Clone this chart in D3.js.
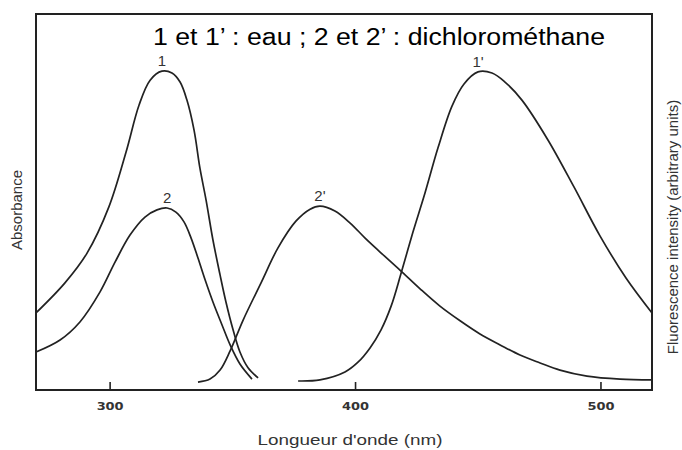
<!DOCTYPE html>
<html>
<head>
<meta charset="utf-8">
<script src="https://cdn.jsdelivr.net/npm/d3@7/dist/d3.min.js"></script>
<style>
  html, body { margin: 0; padding: 0; background: #fff; }
  svg { display: block; }
</style>
</head>
<body>
<svg id="chart" width="682" height="450"></svg>
<script>
// ---- data (wavelength nm, relative intensity) ----
const xTicks = [300, 400, 500];
const title = "1 et 1\u2019 : eau ; 2 et 2\u2019 : dichlorométhane";
const xTitle = "Longueur d'onde (nm)";
const yLeftTitle = "Absorbance";
const yRightTitle = "Fluorescence intensity (arbitrary units)";

const curve1 = [[270.0,0.205],[281.8,0.285],[290.8,0.364],[299.7,0.487],[306.7,0.633],[312.0,0.758],[316.5,0.824],[321.3,0.848],[325.4,0.843],[328.7,0.819],[331.5,0.771],[334.4,0.691],[336.8,0.590],[339.3,0.505],[342.1,0.399],[345.0,0.306],[347.4,0.234],[350.3,0.160],[353.1,0.101],[356.4,0.059],[360.5,0.032]];
const curve2 = [[270.0,0.101],[279.8,0.133],[287.9,0.181],[296.1,0.261],[302.2,0.340],[308.3,0.412],[314.4,0.460],[319.3,0.479],[323.4,0.484],[327.0,0.473],[330.3,0.447],[333.2,0.404],[336.0,0.351],[338.9,0.293],[342.1,0.234],[345.8,0.173],[349.1,0.120],[353.1,0.069],[358.0,0.029]];
const curve2p = [[336.0,0.021],[340.9,0.029],[345.0,0.053],[349.1,0.104],[354.4,0.186],[361.7,0.285],[368.6,0.378],[375.9,0.449],[381.7,0.481],[385.7,0.489],[391.8,0.476],[398.0,0.444],[404.1,0.404],[410.2,0.367],[418.3,0.319],[426.5,0.269],[434.6,0.223],[442.8,0.184],[450.9,0.149],[459.1,0.120],[467.2,0.093],[475.4,0.072],[483.5,0.053],[494.5,0.037],[508.0,0.029],[521.0,0.027]];
const curve1p = [[376.8,0.024],[385.7,0.027],[395.9,0.048],[401.2,0.074],[406.1,0.112],[410.6,0.160],[414.7,0.223],[418.7,0.309],[423.6,0.420],[428.5,0.524],[433.8,0.644],[439.5,0.755],[444.4,0.814],[450.1,0.846],[455.8,0.843],[461.1,0.819],[468.0,0.771],[478.6,0.665],[489.2,0.540],[499.8,0.410],[510.4,0.298],[521.0,0.205]];

const curveNames = ["1", "2", "2'", "1'"];
const curveLabelAt = [[321.3,0.848],[323.4,0.484],[385.7,0.489],[450.1,0.846]];

// ---- layout ----
const svg = d3.select("#chart");
const mL = 36, mR = 652, mT = 14, mB = 390;
const x = d3.scaleLinear().domain([270, 521]).range([mL, mR]);
const y = d3.scaleLinear().domain([0, 1]).range([mB, mT]);

const ink = "#222";

// curves
const line = d3.line().x(d => x(d[0])).y(d => y(d[1])).curve(d3.curveCatmullRom.alpha(0.5));
[curve1, curve2, curve2p, curve1p].forEach(c => {
  svg.append("path").attr("d", line(c))
    .attr("fill", "none").attr("stroke", ink).attr("stroke-width", 1.7);
});

// curve labels
curveNames.forEach((n, i) => {
  const p = curveLabelAt[i];
  svg.append("text")
    .attr("x", x(p[0])).attr("y", y(p[1]) - 5)
    .attr("text-anchor", "middle")
    .attr("font-family", "Liberation Sans, Arial, sans-serif")
    .attr("font-size", 15).attr("fill", "#333")
    .text(n);
});

// frame
svg.append("rect").attr("x", mL).attr("y", mT)
  .attr("width", mR - mL).attr("height", mB - mT)
  .attr("fill", "none").attr("stroke", ink).attr("stroke-width", 2);

// x axis
const ax = svg.append("g").attr("transform", `translate(0,${mB})`)
  .call(d3.axisBottom(x).tickValues(xTicks).tickSize(-8).tickPadding(12).tickFormat(d3.format("d")));
ax.select(".domain").remove();
ax.selectAll(".tick line").attr("stroke", ink).attr("stroke-width", 1.6);
ax.selectAll(".tick text")
  .attr("font-family", "DejaVu Sans, sans-serif")
  .attr("font-size", 11).attr("font-weight", "bold").attr("fill", "#333")
  .attr("textLength", 27).attr("lengthAdjust", "spacingAndGlyphs");

// x title
svg.append("text").attr("x", 350).attr("y", 445)
  .attr("text-anchor", "middle")
  .attr("font-family", "Liberation Sans, Arial, sans-serif")
  .attr("font-size", 15).attr("fill", "#333")
  .attr("textLength", 185).attr("lengthAdjust", "spacingAndGlyphs")
  .text(xTitle);

// left title
svg.append("text")
  .attr("transform", "translate(22,210) rotate(-90)")
  .attr("text-anchor", "middle")
  .attr("font-family", "Liberation Sans, Arial, sans-serif")
  .attr("font-size", 15).attr("fill", "#333")
  .text(yLeftTitle);

// right title
svg.append("text")
  .attr("transform", "translate(678,227) rotate(-90)")
  .attr("text-anchor", "middle")
  .attr("font-family", "Liberation Sans, Arial, sans-serif")
  .attr("font-size", 15).attr("fill", "#333")
  .text(yRightTitle);

// chart title
svg.append("text").attr("x", 153).attr("y", 45)
  .attr("font-family", "Liberation Sans, Arial, sans-serif")
  .attr("font-size", 23).attr("fill", "#000")
  .attr("textLength", 452).attr("lengthAdjust", "spacingAndGlyphs")
  .text(title);
</script>
</body>
</html>
